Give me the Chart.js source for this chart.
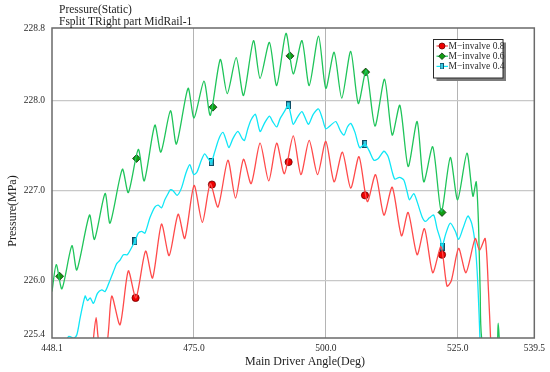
<!DOCTYPE html>
<html>
<head>
<meta charset="utf-8">
<title>Pressure(Static)</title>
<script src="https://cdn.jsdelivr.net/npm/chart.js@4.4.1/dist/chart.umd.min.js"></script>
<style>
  html, body { margin: 0; padding: 0; background: #fff; }
  canvas { display: block; }
</style>
</head>
<body>
<canvas id="pressureChart" width="550" height="372"></canvas>
<script>
// values: angle in deg, pressure in MPa

// M-invalve 0.8 (red)
const angle08 = [455.83, 456.46, 457.09, 458.47, 459.42, 460.99, 462.56, 464.01, 465.83, 467.15, 468.85, 470.30,
  472.00, 473.26, 475.02, 476.59, 478.10, 479.55, 481.43, 482.88, 484.39, 485.84, 487.53, 489.17, 490.68, 492.13,
  493.82, 495.27, 496.84, 498.42, 499.99, 501.56, 503.13, 504.71, 506.28, 507.85, 509.42, 511.00, 512.57, 514.33,
  515.59, 517.29, 518.68, 520.25, 521.82, 522.95, 523.77, 525.16, 526.54, 528.30, 529.12, 530.19, 530.82, 531.26]
const pressure08 = [225.29, 225.59, 225.29, 225.29, 225.83, 225.51, 226.11, 225.81, 226.33, 226.03, 226.63, 226.28,
  226.74, 226.47, 227.06, 226.65, 227.08, 226.82, 227.34, 226.92, 227.35, 227.08, 227.53, 227.11, 227.53, 227.19,
  227.61, 227.18, 227.56, 227.18, 227.55, 227.10, 227.43, 227.03, 227.38, 226.88, 227.18, 226.73, 227.04, 226.50,
  226.76, 226.29, 226.58, 226.09, 226.38, 225.94, 226.00, 226.36, 226.09, 226.47, 226.34, 226.47, 225.88, 225.29]

// M-invalve 0.6 (green)
const angle06 = [448.10, 448.91, 449.98, 451.87, 452.81, 455.20, 456.15, 458.16, 459.10, 461.43, 462.56, 464.45,
  465.58, 467.59, 468.73, 470.55, 471.68, 473.88, 475.02, 476.90, 478.10, 479.99, 481.31, 483.01, 484.39, 486.28,
  487.53, 489.30, 490.68, 492.44, 493.82, 495.46, 496.84, 498.61, 499.99, 501.56, 503.01, 504.71, 506.15, 507.66,
  509.30, 511.12, 512.57, 514.02, 515.59, 517.29, 518.55, 520.25, 521.88, 523.58, 524.97, 526.73, 527.86, 528.49,
  528.93, 529.24, 529.70, 532.20, 532.65, 533.20, 534.50]
const pressure06 = [225.88, 226.18, 225.91, 226.39, 226.12, 226.73, 226.46, 226.97, 226.64, 227.24, 226.98, 227.46,
  227.11, 227.73, 227.43, 227.89, 227.52, 228.14, 227.81, 228.22, 227.84, 228.46, 228.08, 228.48, 228.06, 228.67,
  228.25, 228.65, 228.17, 228.75, 228.30, 228.67, 228.17, 228.72, 228.14, 228.54, 228.03, 228.55, 227.97, 228.34,
  227.72, 228.24, 227.62, 227.95, 227.27, 227.77, 227.10, 227.49, 226.77, 227.37, 226.90, 227.42, 226.94, 227.10,
  226.62, 225.88, 225.29, 225.10, 225.53, 225.10, 224.90]

// M-invalve 0.4 (cyan)
const angle04 = [450.61, 451.24, 452.18, 452.81, 453.44, 454.38, 454.82, 455.33, 455.96, 456.71, 457.53, 458.16,
  458.98, 459.73, 460.36, 460.99, 461.62, 462.37, 463.19, 463.82, 464.45, 465.08, 465.71, 466.65, 467.59, 468.22,
  468.85, 469.48, 470.11, 470.50, 471.05, 471.81, 472.63, 473.44, 474.20, 474.95, 475.58, 476.40, 477.03, 477.66,
  478.29, 478.92, 479.73, 480.49, 481.12, 481.62, 482.38, 483.32, 484.14, 484.58, 485.21, 485.84, 486.65, 487.53,
  488.35, 489.30, 489.92, 490.68, 491.31, 492.13, 492.88, 493.38, 493.82, 494.64, 495.46, 496.22, 496.72, 497.60,
  498.61, 499.36, 499.99, 500.93, 501.88, 502.82, 503.45, 504.08, 504.71, 505.52, 506.40, 507.41, 508.17, 509.11,
  509.93, 511.00, 511.81, 512.57, 513.07, 513.95, 514.77, 515.40, 515.84, 516.66, 517.29, 518.24, 518.87, 519.62,
  520.44, 521.07, 521.70, 522.01, 522.76, 523.58, 524.53, 525.16, 525.97, 526.92, 527.67, 528.30, 528.80, 529.24]
const pressure04 = [225.29, 225.38, 225.36, 225.40, 225.59, 225.83, 225.78, 225.81, 225.75, 225.86, 225.90, 225.88,
  225.99, 226.10, 226.19, 226.23, 226.29, 226.29, 226.37, 226.44, 226.53, 226.55, 226.53, 226.70, 226.82, 226.84,
  226.81, 226.90, 226.97, 227.01, 227.00, 226.95, 227.03, 227.19, 227.29, 227.18, 227.21, 227.34, 227.41, 227.36,
  227.32, 227.43, 227.58, 227.65, 227.56, 227.48, 227.58, 227.66, 227.58, 227.56, 227.69, 227.79, 227.85, 227.66,
  227.75, 227.83, 227.77, 227.71, 227.80, 227.88, 227.95, 227.84, 227.74, 227.82, 227.88, 227.79, 227.74, 227.85,
  227.91, 227.80, 227.69, 227.73, 227.77, 227.66, 227.62, 227.71, 227.75, 227.65, 227.48, 227.52, 227.45, 227.34,
  227.36, 227.44, 227.38, 227.21, 227.13, 227.15, 227.12, 226.99, 226.90, 226.97, 226.88, 226.71, 226.66, 226.70,
  226.73, 226.58, 226.46, 226.38, 226.53, 226.64, 226.55, 226.46, 226.58, 226.72, 226.63, 226.40, 225.96, 225.29]

// marker positions on each curve
const markAngle08 = [463.94, 478.41, 492.94, 507.41, 522.01]
const markPressure08 = [225.81, 227.07, 227.32, 226.95, 226.29]
const markAngle06 = [449.54, 464.13, 478.60, 493.20, 507.54, 522.01]
const markPressure06 = [226.05, 227.36, 227.93, 228.50, 228.32, 226.76]
const markAngle04 = [463.82, 478.29, 492.88, 507.41, 522.01]
const markPressure04 = [226.44, 227.32, 227.95, 227.52, 226.38]

// axes
const xTicks = [448.1, 475.0, 500.0, 525.0, 539.5]
const yTicks = [225.4, 226.0, 227.0, 228.0, 228.8]
const titleLines = ['Pressure(Static)', 'Fsplit TRight part MidRail-1']
const xTitle = 'Main Driver Angle(Deg)'
const yTitle = 'Pressure(MPa)'

const serif = '"Liberation Serif", "Times New Roman", serif'

function toPoints (xs, ys) {
  return xs.map((x, i) => ({ x, y: ys[i] }))
}

// tall cyan box used as the 0.4 marker
function boxMarker (w, h) {
  const c = document.createElement('canvas')
  c.width = w + 1
  c.height = h + 1
  const g = c.getContext('2d')
  g.fillStyle = '#3cc9e2'
  g.fillRect(0.5, 0.5, w, h)
  g.strokeStyle = '#0d4d66'
  g.lineWidth = 1
  g.strokeRect(0.5, 0.5, w, h)
  return c
}

const series = [
  {
    label: 'M\u2212invalve 0.8', color: '#ff4a4a', angle: angle08, pressure: pressure08,
    mAngle: markAngle08, mPressure: markPressure08,
    marker: { style: 'circle', radius: 3.6, fill: '#ee0000', edge: '#6a0000' }
  },
  {
    label: 'M\u2212invalve 0.6', color: '#1fc45a', angle: angle06, pressure: pressure06,
    mAngle: markAngle06, mPressure: markPressure06,
    marker: { style: 'rectRot', radius: 4, fill: '#129c12', edge: '#0b2a0b' }
  },
  {
    label: 'M\u2212invalve 0.4', color: '#10e6f6', angle: angle04, pressure: pressure04,
    mAngle: markAngle04, mPressure: markPressure04,
    marker: { style: boxMarker(4, 7), radius: 4, fill: '#3cc9e2', edge: '#0d4d66' }
  }
]

const lineSets = series.map(s => ({
  label: s.label,
  data: toPoints(s.angle, s.pressure),
  borderColor: s.color,
  borderWidth: 1.3,
  pointRadius: 0,
  tension: 0.25,
  fill: false
}))

const markerSets = series.map(s => ({
  data: toPoints(s.mAngle, s.mPressure),
  showLine: false,
  pointStyle: s.marker.style,
  pointRadius: s.marker.radius,
  pointBackgroundColor: s.marker.fill,
  pointBorderColor: s.marker.edge,
  pointBorderWidth: 0.8
}))

function drawLegendMarker (ctx, m, x, y) {
  ctx.fillStyle = m.fill
  ctx.strokeStyle = m.edge
  ctx.lineWidth = 0.8
  if (typeof m.style !== 'string') {
    ctx.drawImage(m.style, x - m.style.width / 2, y - m.style.height / 2 + 0.5, m.style.width - 0.5, m.style.height - 1.5)
    return
  }
  ctx.beginPath()
  if (m.style === 'circle') {
    ctx.arc(x, y, 3, 0, Math.PI * 2)
  } else {
    ctx.moveTo(x, y - 3.3)
    ctx.lineTo(x + 3.3, y)
    ctx.lineTo(x, y + 3.3)
    ctx.lineTo(x - 3.3, y)
    ctx.closePath()
  }
  ctx.fill()
  ctx.stroke()
}

function drawLegend (ctx) {
  const bx = 433.5
  const by = 39.5
  const bw = 69.5
  const bh = 38.5
  ctx.fillStyle = '#7c7c7c'
  ctx.fillRect(bx + 3, by + 3, bw, bh)
  ctx.fillStyle = '#fff'
  ctx.fillRect(bx, by, bw, bh)
  ctx.strokeStyle = '#2a2a2a'
  ctx.lineWidth = 1
  ctx.strokeRect(bx, by, bw, bh)

  ctx.font = `9.5px ${serif}`
  ctx.textBaseline = 'middle'
  ctx.textAlign = 'left'
  series.forEach((s, i) => {
    const y = 46 + i * 10.2
    ctx.strokeStyle = s.color
    ctx.lineWidth = 1.2
    ctx.beginPath()
    ctx.moveTo(436.5, y)
    ctx.lineTo(448, y)
    ctx.stroke()
    drawLegendMarker(ctx, s.marker, 442, y)
    ctx.fillStyle = '#2a2a2a'
    ctx.fillText(s.label, 448.5, y)
  })
}

// frame, titles and legend box
const decorPlugin = {
  id: 'decor',
  afterDraw (chart) {
    const { ctx, chartArea: a } = chart
    ctx.save()
    ctx.strokeStyle = '#6a6a6a'
    ctx.lineWidth = 1.5
    ctx.strokeRect(a.left, a.top, a.right - a.left, a.bottom - a.top)

    ctx.fillStyle = '#1e1e1e'
    ctx.font = `11.5px ${serif}`
    ctx.textBaseline = 'middle'
    ctx.textAlign = 'left'
    ctx.fillText(titleLines[0], 59, 10)
    ctx.fillText(titleLines[1], 59, 22)

    ctx.font = `12px ${serif}`
    ctx.textAlign = 'center'
    ctx.fillText(xTitle, 305, 362)
    ctx.translate(13, 211)
    ctx.rotate(-Math.PI / 2)
    ctx.fillText(yTitle, 0, 0)
    ctx.restore()

    ctx.save()
    drawLegend(ctx)
    ctx.restore()
  }
}

function edgeless (color, count) {
  return c => (c.index === 0 || c.index === count - 1) ? 'rgba(0,0,0,0)' : color
}

new Chart(document.getElementById('pressureChart'), {
  type: 'line',
  data: { datasets: [...lineSets, ...markerSets] },
  options: {
    responsive: false,
    animation: false,
    devicePixelRatio: 1,
    layout: { padding: { top: 28, right: 14, bottom: 0, left: 0 } },
    plugins: {
      legend: { display: false },
      title: { display: false },
      tooltip: { enabled: false }
    },
    scales: {
      x: {
        type: 'linear',
        min: 448.1,
        max: 539.5,
        afterBuildTicks (scale) { scale.ticks = xTicks.map(v => ({ value: v })) },
        afterFit (scale) { scale.height = 34 },
        grid: { color: edgeless('#b4b4b4', xTicks.length), lineWidth: 1, drawTicks: false },
        border: { display: false },
        ticks: {
          autoSkip: false,
          maxRotation: 0,
          padding: 5,
          color: '#2a2a2a',
          font: { family: serif, size: 9.5 },
          callback: v => v.toFixed(1)
        }
      },
      y: {
        type: 'linear',
        min: 225.364,
        max: 228.81,
        afterBuildTicks (scale) { scale.ticks = yTicks.map(v => ({ value: v })) },
        afterFit (scale) { scale.width = 52 },
        grid: { color: edgeless('#c8c8c8', yTicks.length), lineWidth: 1.2, drawTicks: false },
        border: { display: false },
        ticks: {
          autoSkip: false,
          padding: 7,
          color: '#2a2a2a',
          font: { family: serif, size: 9.5 },
          callback: v => v.toFixed(1)
        }
      }
    }
  },
  plugins: [decorPlugin]
})
</script>
</body>
</html>
